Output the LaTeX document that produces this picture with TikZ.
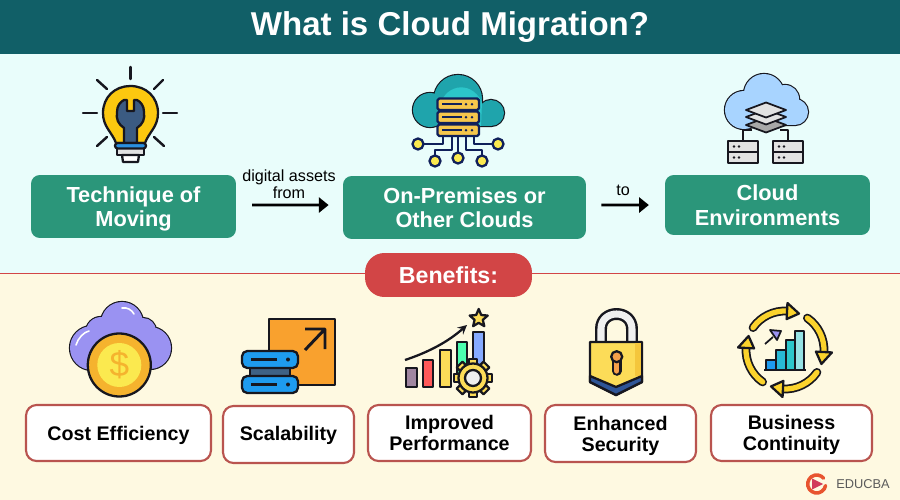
\documentclass[tikz,border=0pt]{standalone}
\usepackage{fontspec}
\setmainfont{Liberation Sans}
\usetikzlibrary{arrows.meta, positioning, shapes.geometric}

\definecolor{headteal}{HTML}{115F67}
\definecolor{upperbg}{HTML}{E9FDFB}
\definecolor{lowerbg}{HTML}{FEF9E1}
\definecolor{boxgreen}{HTML}{2B967A}
\definecolor{benefitred}{HTML}{D24546}
\definecolor{cardedge}{HTML}{B9544F}
\definecolor{ink}{HTML}{17171F}
\definecolor{navyink}{HTML}{10205A}
\definecolor{bulbyellow}{HTML}{FCC80F}
\definecolor{wrenchblue}{HTML}{3B5B82}
\definecolor{bandblue}{HTML}{2A90E0}
\definecolor{cloudteal}{HTML}{2CC6CA}
\definecolor{clouddark}{HTML}{1FA4AC}
\definecolor{rackgold}{HTML}{F6C64C}
\definecolor{cloudsky}{HTML}{A8D4FF}
\definecolor{layerlight}{HTML}{E2E2E2}
\definecolor{layerdark}{HTML}{A8A8A8}
\definecolor{cloudviolet}{HTML}{9A92F2}
\definecolor{coinorange}{HTML}{F5B32E}
\definecolor{coinyellow}{HTML}{FBE94F}
\definecolor{squareorange}{HTML}{F9A12E}
\definecolor{rackblue}{HTML}{1E9BEF}
\definecolor{rackslate}{HTML}{3F6285}
\definecolor{lockyellow}{HTML}{FCDC58}
\definecolor{lockshade}{HTML}{F4C63C}
\definecolor{locknavy}{HTML}{2F5597}
\definecolor{keyorange}{HTML}{F6A04A}
\definecolor{loopyellow}{HTML}{FBD32C}
\definecolor{logored}{HTML}{E8542F}
\definecolor{logopink}{HTML}{D13A5A}
\definecolor{logogray}{HTML}{5A5A5A}

\tikzset{
        iconline/.style={draw=ink, line width=1.3pt, line join=round},
        navyline/.style={draw=navyink, line width=1.3pt, line join=round},
        raydash/.style={draw=ink, line width=1.4pt, line cap=round},
        greenbox/.style={fill=boxgreen, rounded corners=5pt, text=white, align=center, text depth=0pt,
                font=\fontsize{12.4}{13.8}\selectfont\bfseries},
        cardbox/.style={draw=cardedge, line width=1.2pt, fill=white, rounded corners=6pt, align=center, text depth=0pt,
                font=\fontsize{11.2}{12}\selectfont\bfseries},
        flowlabel/.style={align=center, font=\fontsize{9.2}{9.6}\selectfont},
        flowarrow/.style={draw=black, line width=1.6pt, -{Triangle[length=5.5pt, width=8.5pt]}}
}
\newcommand{\blob}[2]{\draw[iconline, fill=#1] #2; \fill[#1] #2;}

\begin{document}
\begin{tikzpicture}[x=0.02cm, y=-0.02cm]
        \useasboundingbox (0,0) rectangle (900,500);
        \fill[lowerbg] (0,273) rectangle (900,500);
        \fill[upperbg] (0,54) rectangle (900,273);
        \fill[headteal] (0,0) rectangle (900,54);
        \draw[benefitred, line width=0.9pt] (0,273.5) -- (900,273.5);

        \node[text=white, font=\fontsize{18.8}{22}\selectfont\bfseries] (title) at (450,27.5) {What is Cloud Migration?};

        \node[greenbox, minimum width=4.1cm, minimum height=1.26cm] (moving) at (133.5,206.5) {Technique of\\Moving};
        \node[greenbox, minimum width=4.86cm, minimum height=1.26cm] (premises) at (464.5,207.5) {On-Premises or\\Other Clouds};
        \node[greenbox, minimum width=4.1cm, minimum height=1.2cm] (cloudenv) at (767.5,205) {Cloud\\Environments};
        \draw[flowarrow, shorten <=9pt, shorten >=8pt] ([yshift=0.85pt]moving.east) -- ([yshift=1.4pt]premises.west);
        \draw[flowarrow, shorten <=8.5pt, shorten >=9pt] ([yshift=1.4pt]premises.east) -- (cloudenv.west);
        \node[flowlabel] (assets) at (289,184.5) {digital assets\\from};
        \node[flowlabel] (tolabel) at (623,190) {to};

        \node[fill=benefitred, rounded corners=11pt, minimum width=3.34cm, minimum height=0.88cm, text=white,
                font=\fontsize{13.2}{15}\selectfont\bfseries] (benefits) at (448.5,275) {Benefits:};

        \node[cardbox, minimum width=3.7cm, minimum height=1.12cm] (cost) at (118.5,433) {Cost Efficiency};
        \node[cardbox, minimum width=2.62cm, minimum height=1.14cm] (scale) at (288.5,434.5) {\raisebox{1pt}{Scalability}};
        \node[cardbox, minimum width=3.26cm, minimum height=1.12cm] (perform) at (449.5,433) {Improved\\Performance};
        \node[cardbox, minimum width=3.02cm, minimum height=1.14cm] (secure) at (620.5,433.5) {Enhanced\\Security};
        \node[cardbox, minimum width=3.22cm, minimum height=1.12cm] (continue) at (791.5,433) {Business\\Continuity};

        \draw[raydash] (130.3,67) -- (130.3,79) (83,113) -- (97,113) (163,113) -- (177,113);
        \draw[raydash] (97,80) -- (107,89) (163,80) -- (154,89) (97,146) -- (107,137) (164,146) -- (154,137);
        \draw[iconline, fill=bulbyellow] (116,143) .. controls (112,132) and (103,127) .. (103,113)
                .. controls (103,97) and (115,86) .. (130.3,86) .. controls (146,86) and (158,97) .. (158,113)
                .. controls (158,127) and (149,132) .. (145,143) -- cycle;
        \draw[iconline, fill=wrenchblue] (124,143) -- (124,128) .. controls (118,124) and (116,119) .. (117,112)
                .. controls (117,106) and (120,102) .. (124,100) -- (127,100) -- (127,111) -- (134,111) -- (134,100) -- (137,100)
                .. controls (141,102) and (144,106) .. (144,112) .. controls (145,119) and (143,124) .. (137,128) -- (137,143) -- cycle;
        \draw[iconline, fill=layerlight] (117,148) rectangle (144,155);
        \draw[iconline, fill=white] (122,155) -- (139,155) -- (138,162) -- (123,162) -- cycle;
        \draw[iconline, fill=bandblue, rounded corners=1.5pt] (115,143) rectangle (146,148.5);

        \blob{clouddark}{(430,110) circle (17) (458,99) circle (24) (491,113) circle (13) (430,126) rectangle (491,107)}
        \fill[cloudteal] (440,127) -- (440,108) .. controls (442,86) and (470,78) .. (482,102) -- (481,126) -- cycle;
        \draw[navyline] (443,135) -- (443,144) -- (424,144);
        \draw[navyline] (452,135) -- (452,150) -- (435,150) -- (435,156);
        \draw[navyline] (458,135) -- (458,152);
        \draw[navyline] (466,135) -- (466,150) -- (482,150) -- (482,156);
        \draw[navyline] (474,135) -- (474,144) -- (493,144);
        \foreach \nx/\ny in {418/144, 435/161, 458/158, 482/161, 498/144}
                \draw[navyline, fill=coinyellow] (\nx,\ny) circle (5.5);
        \foreach \ry in {98.5,111.5,124.5} {
                \draw[navyline, fill=rackgold, rounded corners=1pt] (437.5,\ry) rectangle (479,\ry+11.5);
                \fill[navyink] (442,\ry+4.5) rectangle (462,\ry+7);
                \fill[navyink] (466,\ry+5.7) circle (1.4) (472,\ry+5.7) circle (1.4);
        }

        \blob{cloudsky}{(744,110) circle (19) (764,94) circle (20) (785,99) circle (14) (795,112) circle (13) (744,125) rectangle (795,108)}
        \draw[iconline] (752,130) -- (743,130) -- (743,141) (780,130) -- (788,130) -- (788,141);
        \foreach \ly/\lc in {125/layerdark, 117/layerlight, 110/layerlight}
                \draw[iconline, line width=1pt, fill=\lc] (746,\ly) -- (766,\ly-7.5) -- (786,\ly) -- (766,\ly+7.5) -- cycle;
        \foreach \sx in {728,773} {
                \draw[iconline, fill=layerlight] (\sx,141) rectangle (\sx+30,152);
                \draw[iconline, fill=layerlight] (\sx,152) rectangle (\sx+30,163);
                \fill[ink] (\sx+6,146.5) circle (1.3) (\sx+11,146.5) circle (1.3) (\sx+6,157.5) circle (1.3) (\sx+11,157.5) circle (1.3);
        }

        \blob{cloudviolet}{(122,323) circle (21) (101,332) circle (15) (92,348) circle (22) (143,331) circle (13) (150,348) circle (21) (95,369) rectangle (150,345)}
        \draw[white, line width=0.9pt, line cap=round] (76,345) .. controls (78,338) and (84,332) .. (89,331);
        \draw[white, line width=0.9pt, line cap=round] (122,308) .. controls (127,307) and (132,310) .. (134,314);
        \draw[iconline, fill=coinorange] (119.3,365) circle (31.5);
        \fill[coinyellow] (119.3,365) circle (22);
        \node[text=coinorange, font=\fontsize{20}{22}\selectfont] (dollar) at (119.3,365) {\$};

        \draw[iconline, fill=squareorange] (269,319) rectangle (335,385);
        \draw[iconline, line width=1.7pt] (305,350) -- (325,329) (305,329) -- (325,329) -- (325,349);
        \draw[iconline, fill=rackslate] (250,366) rectangle (290,378);
        \foreach \ry in {351,376} {
                \draw[iconline, fill=rackblue, rounded corners=3pt] (242,\ry) rectangle (298,\ry+17);
                \draw[ink, line width=1.2pt] (251,\ry+8.5) -- (277,\ry+8.5);
                \fill[ink] (288,\ry+8.5) circle (2);
        }

        \draw[iconline, fill=layerdark!80!violet] (405.7,368) rectangle (416.7,387);
        \draw[iconline, fill=red!65!white] (423,360) rectangle (433,387);
        \draw[iconline, fill=lockyellow] (440,350) rectangle (451,387);
        \draw[iconline, fill=green!45!cyan!70!white] (457,342) rectangle (467,375);
        \draw[iconline, fill=cloudsky!80!blue] (473,332) rectangle (484,375);
        \draw[iconline, -stealth] (405,360) .. controls (432,351) and (450,340) .. (467,325);
        \node[star, star points=5, star point ratio=2.2, inner sep=0pt, minimum size=0.38cm, iconline, fill=lockyellow] (perfstar) at (478.7,318.5) {};
        \foreach \a in {0,45,...,315}
                \draw[iconline, fill=lockyellow, rotate around={\a:(473,378)}] (469,359) rectangle (477,365);
        \draw[iconline, fill=lockyellow] (473,378) circle (14.5);
        \draw[iconline, fill=layerlight!60!white] (473,378) circle (8);

        \draw[ink, line width=6.8pt] (601,344) -- (601,329) .. controls (601,309) and (632,309) .. (632,329) -- (632,344);
        \draw[layerlight!50!white, line width=4pt] (601,344) -- (601,329) .. controls (601,309) and (632,309) .. (632,329) -- (632,344);
        \draw[iconline, fill=lockyellow] (590,342) -- (642,342) -- (642,382) -- (616,395) -- (590,382) -- cycle;
        \fill[lockshade] (635,343) rectangle (641,376);
        \draw[iconline, fill=locknavy] (590,376) -- (616,387) -- (642,376) -- (642,382) -- (616,395) -- (590,382) -- cycle;
        \draw[ink, line width=5.5pt, line cap=round] (616.7,357) -- (616.7,371);
        \draw[keyorange, line width=3pt, line cap=round] (616.7,357) -- (616.7,371);
        \draw[iconline, fill=keyorange] (616.7,356.7) circle (5.5);

        \foreach \a in {215,305,35,125} {
                \draw[ink, line width=5pt, line cap=round] ({785+39*cos(\a)},{350+39*sin(\a)}) arc[start angle=\a, end angle=\a+58, radius=39];
                \draw[loopyellow, line width=3pt, line cap=round] ({785+39*cos(\a)},{350+39*sin(\a)}) arc[start angle=\a, end angle=\a+58, radius=39];
                \draw[iconline, fill=loopyellow] ({785+31*cos(\a+58)},{350+31*sin(\a+58)}) -- ({785+47*cos(\a+58)},{350+47*sin(\a+58)})
                        -- ({785+39*cos(\a+76)},{350+39*sin(\a+76)}) -- cycle;
        }
        \foreach \bx/\bw/\by/\bc in {766/10/360/rackblue, 776/10/350/cloudteal!70!rackblue, 786/9/340/cloudteal, 795/9/331/cloudteal!50!white}
                \draw[iconline, line width=0.8pt, fill=\bc] (\bx,\by) rectangle (\bx+\bw,370);
        \draw[iconline] (764,370) -- (806,370);
        \draw[iconline, line width=1pt] (765,344) -- (773,337);
        \draw[iconline, line width=1pt, fill=cloudviolet] (770,330) -- (781,331) -- (777,340) -- cycle;

        \draw[logored, line width=2pt, line cap=round] ({816.7+9*cos(10)},{484+9*sin(10)}) arc[start angle=10, end angle=320, radius=9];
        \fill[logopink] (812,478.5) -- (823,484) -- (812,489.5) -- cycle;
        \node[text=logogray, font=\fontsize{7.3}{8}\selectfont, inner sep=0pt] (educba) at (863,484) {EDUCBA};
\end{tikzpicture}
\end{document}
